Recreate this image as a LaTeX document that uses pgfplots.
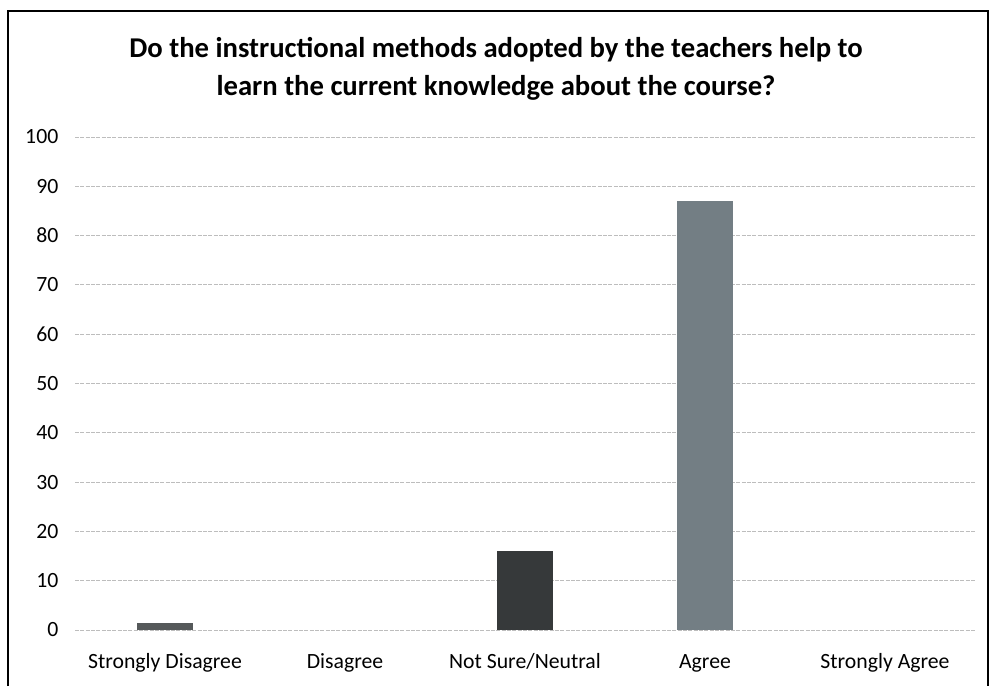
\documentclass[border=0pt]{standalone}
\usepackage{fontspec}
\setmainfont{Carlito}
\usepackage{pgfplots}
\pgfplotsset{compat=1.18}
\definecolor{sdbar}{HTML}{55595A}
\definecolor{neubar}{HTML}{36393A}
\definecolor{agrbar}{HTML}{737E84}
\definecolor{gridc}{HTML}{BDBDBD}

\begin{document}
\begin{tikzpicture}
\useasboundingbox (0,0) rectangle (744pt,514.5pt);
\draw[line width=1.1pt] (6pt,0) -- (6pt,506.25pt) -- (741pt,506.25pt) -- (741pt,0);

\node[font=\fontsize{21.5}{28.5}\selectfont\bfseries, align=center]
  at (372pt,463pt)
  {Do the instructional methods adopted by the teachers help to\\learn the current knowledge about the course?};

\begin{axis}[
    at={(56.25pt,42pt)}, anchor=south west,
    scale only axis,
    width=675pt, height=369.75pt,
    xmin=-0.5, xmax=4.5,
    ymin=0, ymax=100,
    ytick={0,10,...,100},
    xtick={0,1,2,3,4},
    xticklabels={Strongly Disagree,Disagree,Not Sure/Neutral,Agree,Strongly Agree},
    axis line style={draw=none},
    major tick length=0pt,
    ymajorgrids,
    grid style={gridc, dash pattern=on 3pt off 1pt, line width=0.6pt},
    tick label style={font=\fontsize{16.3}{19}\selectfont},
    /pgf/number format/assume math mode=true,
    yticklabel style={xshift=-9pt},
    xticklabel style={yshift=-13pt, text height=12pt, text depth=4pt},
    ybar, bar width=42pt, bar shift=0pt,
  ]
  \addplot[draw=none, fill=sdbar] coordinates {(0,1.5)};
  \addplot[draw=none, fill=neubar] coordinates {(2,16)};
  \addplot[draw=none, fill=agrbar] coordinates {(3,87)};
\end{axis}
\end{tikzpicture}
\end{document}
